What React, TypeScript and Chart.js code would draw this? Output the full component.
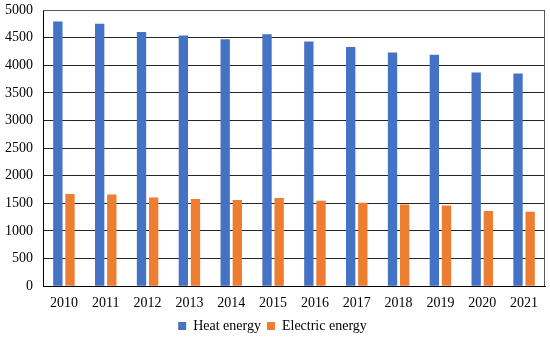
import React, { useEffect, useRef } from "react";
import { Chart, registerables } from "chart.js";

Chart.register(...registerables);

const years = ["2010", "2011", "2012", "2013", "2014", "2015", "2016", "2017", "2018", "2019", "2020", "2021"];
const heatEnergy = [4790, 4750, 4600, 4540, 4470, 4560, 4430, 4330, 4230, 4190, 3870, 3850];
const electricEnergy = [1670, 1660, 1605, 1580, 1560, 1595, 1545, 1510, 1480, 1460, 1360, 1350];

const FONT = "'Liberation Serif', 'Times New Roman', serif";

const frame = {
  id: "frame",
  afterDraw(chart: any) {
    const { ctx, chartArea } = chart;
    ctx.save();
    ctx.strokeStyle = "#595959";
    ctx.lineWidth = 1;
    ctx.beginPath();
    ctx.moveTo(chartArea.left, chartArea.top + 0.5);
    ctx.lineTo(chartArea.right - 0.5, chartArea.top + 0.5);
    ctx.lineTo(chartArea.right - 0.5, chartArea.bottom);
    ctx.stroke();
    ctx.restore();
  },
};

export default function App() {
  const ref = useRef<HTMLCanvasElement>(null);
  useEffect(() => {
    document.body.style.margin = "0";
    const chart = new Chart(ref.current!, {
      type: "bar",
      data: {
        labels: years,
        datasets: [
          { label: "Heat energy", data: heatEnergy, backgroundColor: "#4472C4", categoryPercentage: 0.58, barPercentage: 0.77 },
          { label: "Electric energy", data: electricEnergy, backgroundColor: "#ED7D31", categoryPercentage: 0.58, barPercentage: 0.77 },
        ],
      },
      options: {
        animation: false,
        responsive: false,
        layout: { padding: { left: 0, right: 5, top: 10, bottom: 0 } },
        plugins: {
          legend: {
            position: "bottom",
            labels: { boxWidth: 8, boxHeight: 8, color: "#000", font: { family: FONT, size: 14 }, padding: 6 },
          },
          tooltip: { enabled: false },
        },
        scales: {
          x: {
            grid: { display: false },
            border: { display: true, color: "#000", width: 1 },
            ticks: { color: "#000", font: { family: FONT, size: 14 }, padding: 1, maxRotation: 0 },
          },
          y: {
            min: 0,
            max: 5000,
            grid: { color: "#262626", drawTicks: false },
            border: { display: true, color: "#000", width: 1 },
            ticks: {
              stepSize: 500,
              color: "#000",
              font: { family: FONT, size: 14 },
              padding: 10,
              callback: (v: any) => String(v),
            },
            afterFit: (scale: any) => {
              scale.width = 43;
              scale.paddingTop = 0;
            },
          },
        },
      },
      plugins: [frame],
    });
    return () => chart.destroy();
  }, []);
  return <canvas ref={ref} width={550} height={343} style={{ display: "block" }} />;
}
